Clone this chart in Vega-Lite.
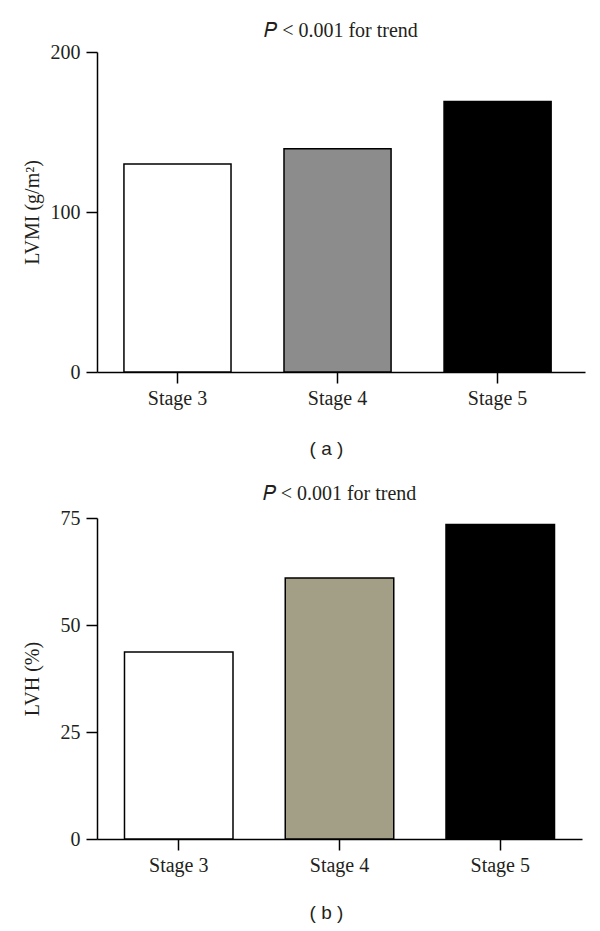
{
  "$schema": "https://vega.github.io/schema/vega-lite/v6.json",
  "padding": {"left": 22, "top": 21, "right": 5, "bottom": 5},
  "background": "white",
  "spacing": 26,
  "resolve": {"scale": {"fill": "independent"}},
  "config": {
    "view": {"stroke": null},
    "axis": {
      "domainColor": "#000000",
      "domainWidth": 1.5,
      "tickColor": "#000000",
      "tickWidth": 1.5,
      "tickSize": 11,
      "grid": false,
      "labelFont": "Liberation Serif",
      "labelFontSize": 20,
      "labelColor": "#231f20",
      "titleFont": "Liberation Serif",
      "titleFontSize": 20,
      "titleFontWeight": "normal",
      "titleColor": "#231f20"
    },
    "title": {"font": "Liberation Serif", "fontSize": 20, "fontWeight": "normal", "color": "#231f20", "anchor": "middle", "offset": 0}
  },
  "vconcat": [
    {
      "title": {"text": "𝑃 < 0.001 for trend", "offset": 1},
      "width": 488,
      "height": 320,
      "data": {"values": [
        {"stage": "Stage 3", "lvmi": 130},
        {"stage": "Stage 4", "lvmi": 139.5},
        {"stage": "Stage 5", "lvmi": 169}
      ]},
      "mark": {"type": "bar", "stroke": "#000000", "strokeWidth": 1.5},
      "encoding": {
        "x": {"field": "stage", "type": "nominal", "sort": null,
          "scale": {"paddingInner": 0.331, "paddingOuter": 0.19, "align": 0.443},
          "axis": {"title": "( a )", "titleFont": "Liberation Sans", "titleFontSize": 19, "titlePadding": 31, "titleX": 229, "labelAngle": 0, "labelPadding": 5}},
        "y": {"field": "lvmi", "type": "quantitative",
          "scale": {"domain": [0, 200], "nice": false},
          "axis": {"title": "LVMI (g/m²)", "values": [0, 100, 200], "labelPadding": 6, "titlePadding": 8}},
        "fill": {"field": "stage", "type": "nominal", "legend": null,
          "scale": {"domain": ["Stage 3", "Stage 4", "Stage 5"], "range": ["#ffffff", "#8c8c8c", "#000000"]}}
      }
    },
    {
      "title": "𝑃 < 0.001 for trend",
      "width": 485,
      "height": 321,
      "data": {"values": [
        {"stage": "Stage 3", "lvh": 43.7},
        {"stage": "Stage 4", "lvh": 61},
        {"stage": "Stage 5", "lvh": 73.5}
      ]},
      "mark": {"type": "bar", "stroke": "#000000", "strokeWidth": 1.5},
      "encoding": {
        "x": {"field": "stage", "type": "nominal", "sort": null,
          "scale": {"paddingInner": 0.325, "paddingOuter": 0.171},
          "axis": {"title": "( b )", "titleFont": "Liberation Sans", "titleFontSize": 19, "titlePadding": 28, "titleX": 229, "labelAngle": 0, "labelPadding": 5}},
        "y": {"field": "lvh", "type": "quantitative",
          "scale": {"domain": [0, 75], "nice": false},
          "axis": {"title": "LVH (%)", "values": [0, 25, 50, 75], "labelPadding": 6, "titlePadding": 18}},
        "fill": {"field": "stage", "type": "nominal", "legend": null,
          "scale": {"domain": ["Stage 3", "Stage 4", "Stage 5"], "range": ["#ffffff", "#a39e86", "#000000"]}}
      }
    }
  ]
}
